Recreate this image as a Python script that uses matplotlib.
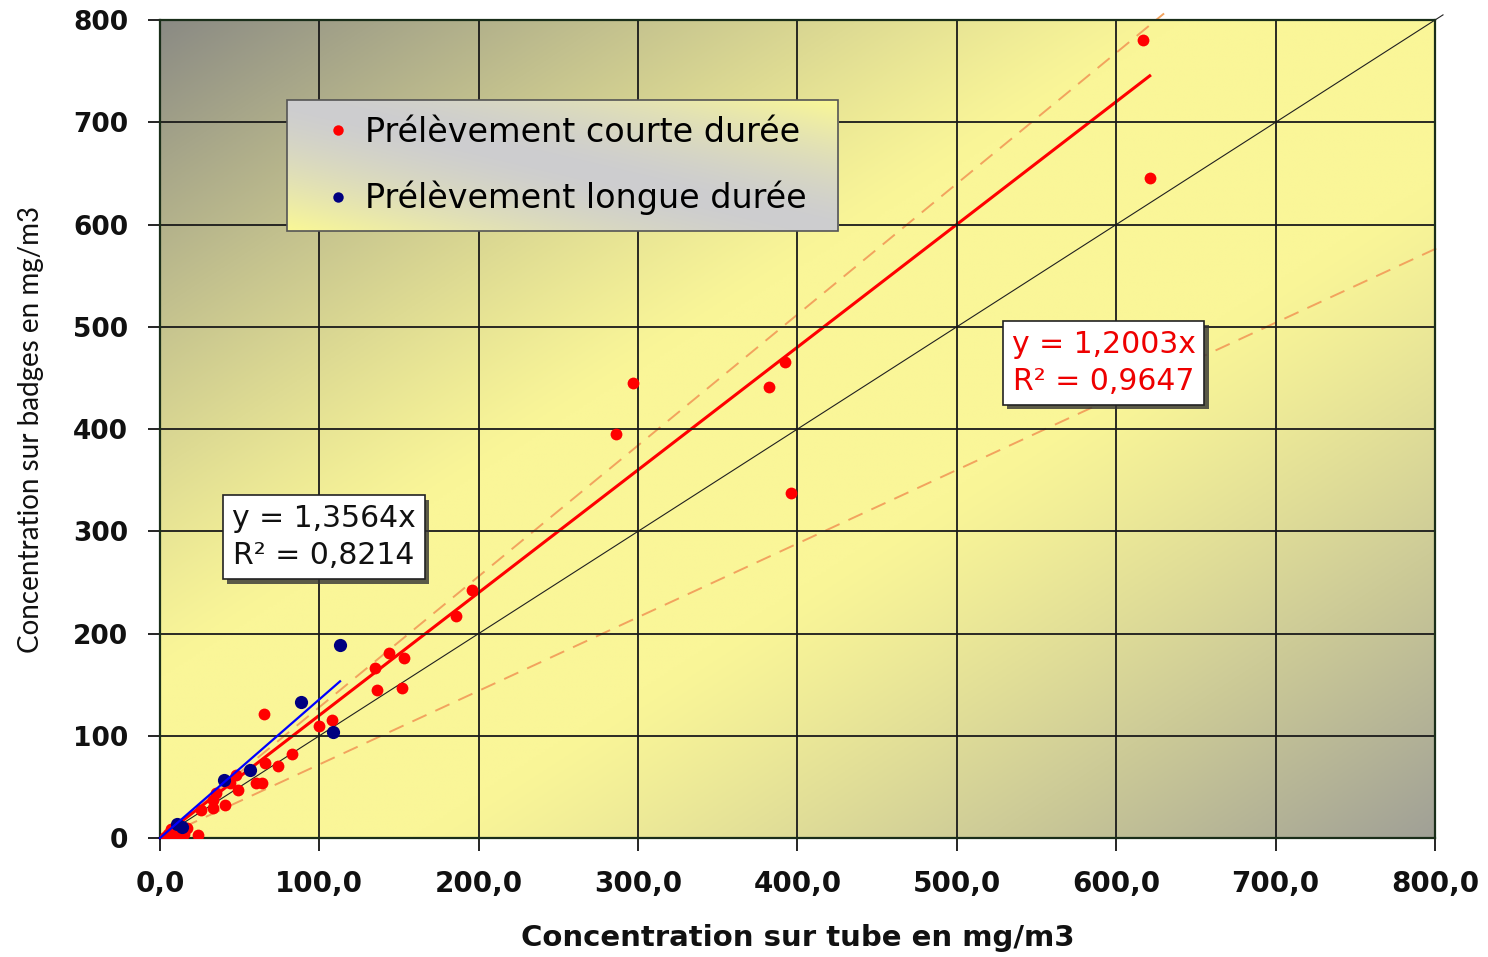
import numpy as np
import matplotlib
matplotlib.use("Agg")
import matplotlib.pyplot as plt
from matplotlib.lines import Line2D
from matplotlib.patches import Rectangle
import matplotlib.patheffects as pe

# short sampling (red) points
court_x = [617, 621, 297, 286, 382, 392, 396, 196, 186, 135, 144, 153, 136, 152,
           65, 108, 100, 83, 74, 66, 60, 64, 49, 48, 44, 41, 33, 33, 35, 26, 24,
           3, 5, 8, 10, 12, 15, 7, 17]
court_y = [780, 645, 445, 395, 441, 466, 337, 243, 217, 166, 181, 176, 145, 147,
           121, 115, 110, 82, 70, 73, 54, 54, 47, 62, 54, 32, 29, 37, 44, 27, 3,
           1, 4, 6, 2, 8, 4, 9, 10]
# long sampling (blue) points
longue_x = [113, 88.5, 108.5, 56.5, 40, 10.7, 13.8]
longue_y = [189, 133, 104, 67, 57, 14, 11]

# regressions and reference lines: slope, x end
fit_court = (1.2003, 621)
fit_longue = (1.3564, 113)
upper_band = (1.28, 630)
lower_band = (0.72, 806)
identity = (1.0, 805)

xticks = [0, 100, 200, 300, 400, 500, 600, 700, 800]
xtick_labels = ["0,0", "100,0", "200,0", "300,0", "400,0", "500,0", "600,0", "700,0", "800,0"]
yticks = [0, 100, 200, 300, 400, 500, 600, 700, 800]

fig = plt.figure(figsize=(14.88, 9.57), dpi=100)
ax = fig.add_axes([0.1075, 0.1243, 0.8569, 0.8548])
ax.set_xlim(0, 800)
ax.set_ylim(0, 800)

# background gradient: grey at top-left / bottom-right corners, yellow across
n = 300
gx, gy = np.meshgrid(np.linspace(0, 1, n), np.linspace(0, 1, n))
u = (gx + gy) / 2  # gy = 0 at top (image origin upper)
w = np.clip((np.abs(u - 0.5) * 2 - 0.2) / 0.8, 0, 1) ** 1.2
yellow = np.array([250, 246, 152]) / 255
grey_tl = np.array([138, 138, 132]) / 255
grey_br = np.array([160, 160, 150]) / 255
grey = np.where((u < 0.5)[..., None], grey_tl, grey_br)
bg = yellow * (1 - w[..., None]) + grey * w[..., None]
ax.imshow(bg, extent=(0, 1, 0, 1), transform=ax.transAxes, aspect="auto",
          origin="upper", zorder=0)

ax.grid(True, color="#1a1a1a", lw=1.3, zorder=1)
ax.set_axisbelow(False)
for s in ax.spines.values():
    s.set_color("#1a2e1a")
    s.set_linewidth(1.6)
    s.set_zorder(3)

def ref_line(slope, xend, **kw):
    xs = np.array([0, xend])
    ax.plot(xs, slope * xs, clip_on=False, **kw)

ref_line(*identity, color="#202020", lw=0.8, zorder=2)
ref_line(*upper_band, color="#f2a35e", lw=1.4, dashes=(8, 5), zorder=2)
ref_line(*lower_band, color="#f2a35e", lw=1.4, dashes=(8, 5), zorder=2)
ref_line(*fit_court, color="#ff0000", lw=2.2, zorder=2)

ax.plot(court_x, court_y, "o", color="#ff0000", ms=8.5, mec="none", zorder=4)
ax.plot(longue_x, longue_y, "o", color="#000080", ms=9.5, mec="none", zorder=4)
ref_line(*fit_longue, color="#0000ff", lw=1.6, zorder=4)

ax.set_xticks(xticks)
ax.set_xticklabels(xtick_labels)
ax.set_yticks(yticks)
ax.tick_params(axis="x", length=9, width=1.2, pad=14, labelsize=20)
ax.tick_params(axis="y", length=9, width=1.2, pad=14, labelsize=19)
for lab in ax.get_xticklabels() + ax.get_yticklabels():
    lab.set_fontweight("bold")
    lab.set_color("#111111")

ax.set_xlabel("Concentration sur tube en mg/m3", fontsize=21, fontweight="bold",
              color="#111111")
ax.xaxis.set_label_coords(0.5, -0.122)
ax.xaxis.label.set_va("center")
ax.set_ylabel("Concentration sur badges en mg/m3", fontsize=20, family="Lato",
              color="#111111")
ax.yaxis.set_label_coords(-0.101, 0.499)
ax.yaxis.label.set_va("center")

# legend box with its own gradient
lx0, lx1, ly0, ly1 = 0.0996, 0.532, 0.742, 0.902
lgx, lgy = np.meshgrid(np.linspace(0, 1, 200), np.linspace(0, 1, 200))
v = (lgx + (1 - lgy)) / 2
lw_ = np.clip(np.abs(v - 0.5) * 2, 0, 1) ** 1.5
lgrey = np.array([205, 205, 208]) / 255
lyellow = np.array([250, 248, 150]) / 255
lbg = lgrey * (1 - lw_[..., None]) + lyellow * lw_[..., None]
ax.imshow(lbg, extent=(lx0, lx1, ly0, ly1), transform=ax.transAxes, aspect="auto",
          origin="upper", zorder=5)
ax.add_patch(Rectangle((lx0, ly0), lx1 - lx0, ly1 - ly0, transform=ax.transAxes,
                       fill=False, ec="#555555", lw=1.2, zorder=5.1))
handles = [Line2D([], [], ls="none", marker="o", color="#ff0000", ms=7.5, mec="none"),
           Line2D([], [], ls="none", marker="o", color="#000080", ms=7.5, mec="none")]
leg = ax.legend(handles, ["Prélèvement courte durée", "Prélèvement longue durée"],
                loc="center left", bbox_to_anchor=(0.12, 0.822), frameon=False,
                fontsize=24, handlelength=0.5, handletextpad=0.55, labelspacing=0.95,
                borderpad=0)
leg.set_zorder(6)

# equation boxes
def eq_box(x, y, text, color):
    t = ax.text(x, y, text, ha="center", va="center", fontsize=21.5, color=color,
                linespacing=1.35, zorder=7,
                bbox=dict(boxstyle="square,pad=0.3", fc="white", ec="#222222", lw=1.2))
    t.get_bbox_patch().set_path_effects([pe.withSimplePatchShadow(offset=(3, -3),
                                         shadow_rgbFace="#333333", alpha=0.8)])

eq_box(103, 294, "y = 1,3564x\nR² = 0,8214", "#111111")
eq_box(592, 465, "y = 1,2003x\nR² = 0,9647", "#ee0000")

fig.savefig("out.png", dpi=100)
